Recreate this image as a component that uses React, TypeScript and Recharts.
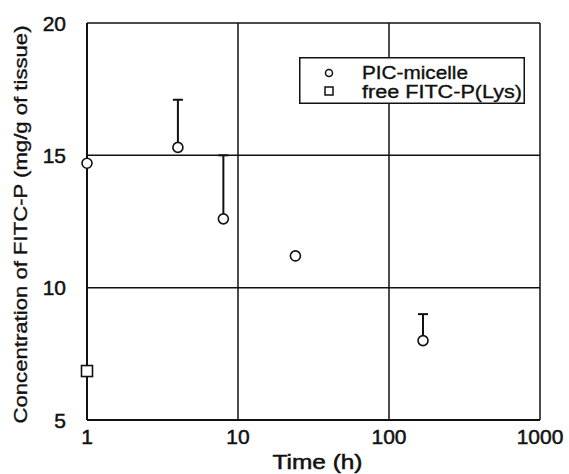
import React from 'react';
import { ScatterChart, Scatter, XAxis, YAxis, CartesianGrid, ErrorBar, Legend } from 'recharts';

const times = [1, 4, 8, 24, 168];
const picValues = [14.7, 15.3, 12.6, 11.2, 8.0];
const picErrorUp = [0, 1.8, 2.4, 0, 1.0];
const freeTimes = [1];
const freeValues = [6.85];
const xTicks = [1, 10, 100, 1000];
const yTicks = [5, 10, 15, 20];
const seriesNames = ['PIC-micelle', 'free FITC-P(Lys)'];
const xLabel = 'Time (h)';
const yLabel = 'Concentration of FITC-P (mg/g of tissue)';

const picData = times.map((t, i) => ({ t, v: picValues[i], err: [0, picErrorUp[i]] }));
const freeData = freeTimes.map((t, i) => ({ t, v: freeValues[i] }));

const FONT = '"Liberation Sans", Arial, Helvetica, sans-serif';
const INK = '#111';
const THICK = 0.5;

const CircleShape = (p: any) => (
  <circle cx={p.cx} cy={p.cy} r={5} fill="#fff" stroke={INK} strokeWidth={1.6} />
);
const SquareShape = (p: any) => (
  <rect x={p.cx - 5.5} y={p.cy - 5.5} width={11} height={11} fill="#fff" stroke={INK} strokeWidth={1.6} />
);

const XTick = (p: any) => (
  <text x={p.x} y={p.y + 24} textAnchor="middle" fontSize={21} fontFamily={FONT} fill={INK}
    stroke={INK} strokeWidth={THICK}>
    {p.payload.value}
  </text>
);
const YTick = (p: any) => (
  <text x={p.x - 21} y={p.y + 7.5} textAnchor="end" fontSize={21} fontFamily={FONT} fill={INK}
    stroke={INK} strokeWidth={THICK}>
    {p.payload.value}
  </text>
);

const XLabelContent = (p: any) => {
  const vb = p.viewBox || { x: 87, y: 420, width: 453, height: 54 };
  const cx = vb.x + vb.width / 2 + 4;
  return (
    <text x={cx} y={vb.y + 49} textAnchor="middle" fontSize={20} fontFamily={FONT} fill={INK}
      stroke={INK} strokeWidth={THICK} textLength={90} lengthAdjust="spacingAndGlyphs">
      {xLabel}
    </text>
  );
};
const YLabelContent = (p: any) => {
  const vb = p.viewBox || { x: 0, y: 23, width: 87, height: 397 };
  const cy = vb.y + vb.height / 2 + 3;
  const bx = 27;
  return (
    <text x={bx} y={cy} transform={`rotate(-90 ${bx} ${cy})`} textAnchor="middle" fontSize={19}
      fontFamily={FONT} fill={INK} stroke={INK} strokeWidth={0.35} textLength={398} lengthAdjust="spacingAndGlyphs">
      {yLabel}
    </text>
  );
};

const LegendBox = () => (
  <svg width={226} height={47} style={{ display: 'block' }}>
    <rect x={0.75} y={0.75} width={224.5} height={45.5} fill="#fff" stroke={INK} strokeWidth={1.5} />
    <circle cx={30} cy={16} r={3.5} fill="#fff" stroke={INK} strokeWidth={1.5} />
    <text x={63} y={22} fontSize={18} fontFamily={FONT} fill={INK} stroke={INK} strokeWidth={0.35}
      textLength={106} lengthAdjust="spacingAndGlyphs">
      {seriesNames[0]}
    </text>
    <rect x={26} y={30} width={8} height={8} fill="#fff" stroke={INK} strokeWidth={1.5} />
    <text x={63} y={41} fontSize={18} fontFamily={FONT} fill={INK} stroke={INK} strokeWidth={0.35}
      textLength={160} lengthAdjust="spacingAndGlyphs">
      {seriesNames[1]}
    </text>
  </svg>
);

export default function App() {
  return (
    <div style={{ position: 'absolute', left: 0, top: 0, width: 569, height: 474, background: '#fff' }}>
      <ScatterChart width={569} height={474} margin={{ top: 23, right: 29, bottom: 0, left: 0 }}>
        <CartesianGrid stroke={INK} strokeWidth={1.5} />
        <XAxis
          dataKey="t"
          type="number"
          scale="log"
          domain={[1, 1000]}
          ticks={xTicks}
          height={54}
          tickLine={false}
          tickSize={0}
          tickMargin={0}
          axisLine={{ stroke: INK, strokeWidth: 2 }}
          tick={<XTick />}
          label={{ content: <XLabelContent /> } as any}
        />
        <YAxis
          dataKey="v"
          type="number"
          domain={[5, 20]}
          ticks={yTicks}
          width={87}
          tickLine={false}
          tickSize={0}
          tickMargin={0}
          axisLine={{ stroke: INK, strokeWidth: 2 }}
          tick={<YTick />}
          label={{ content: <YLabelContent /> } as any}
        />
        <Legend
          layout="horizontal"
          verticalAlign="middle"
          align="center"
          content={<LegendBox />}
          wrapperStyle={{ position: 'absolute', left: 299, top: 57, width: 226, height: 47 }}
        />
        <Scatter name={seriesNames[0]} data={picData} shape={<CircleShape />} isAnimationActive={false}>
          <ErrorBar dataKey="err" direction="y" width={5} stroke={INK} strokeWidth={2} />
        </Scatter>
        <Scatter name={seriesNames[1]} data={freeData} shape={<SquareShape />} isAnimationActive={false} />
      </ScatterChart>
    </div>
  );
}
